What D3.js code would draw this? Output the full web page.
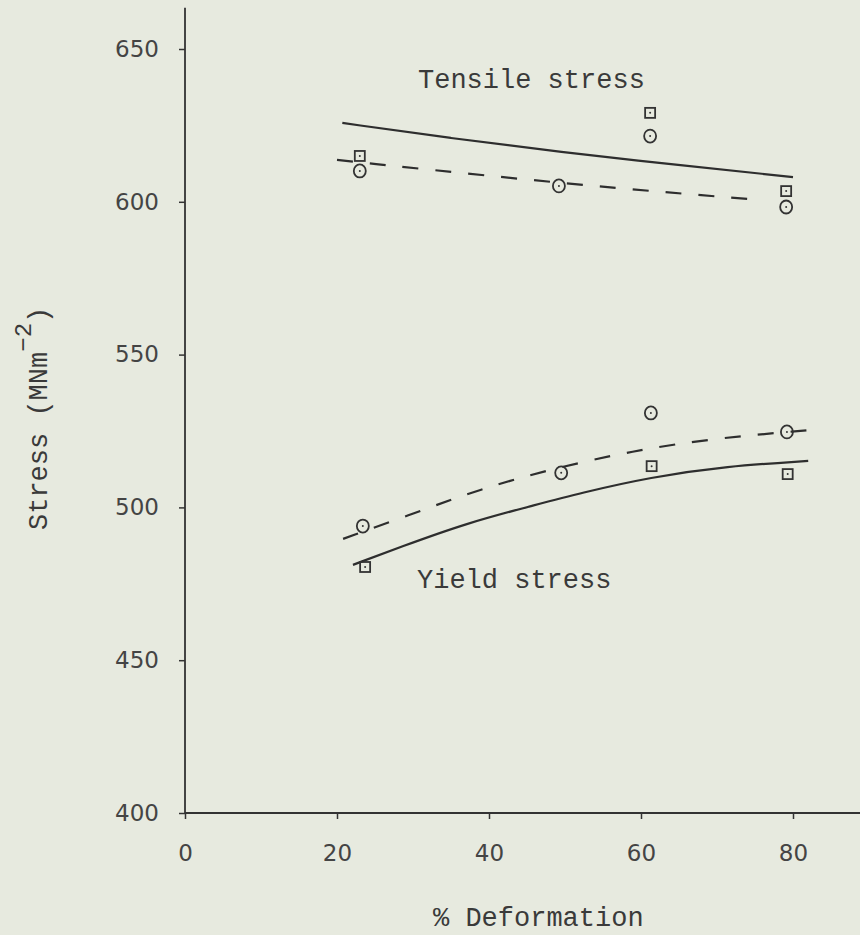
<!DOCTYPE html>
<html>
<head>
<meta charset="utf-8">
<script src="https://cdn.jsdelivr.net/npm/d3@7"></script>
<style>
  html, body { margin: 0; padding: 0; background: #e7eadf; }
  svg { display: block; }
  .tick text { font-family: "DejaVu Sans", sans-serif; font-size: 23px; fill: #444; }
  .lbl { font-family: "Liberation Mono", monospace; font-size: 27px; fill: #3a3a3a; }
</style>
</head>
<body>
<div id="chart"></div>
<script>
// axis ticks
const xTicks = [0, 20, 40, 60, 80];
const yTicks = [400, 450, 500, 550, 600, 650];

// measured points [% deformation, stress]
const tensileSquares = [[23.0, 615.0], [61.2, 629.1], [79.1, 603.5]];
const tensileCircles = [[23.0, 610.1], [49.2, 605.2], [61.2, 621.5], [79.1, 598.3]];
const yieldSquares = [[23.7, 480.5], [61.4, 513.5], [79.3, 510.9]];
const yieldCircles = [[23.4, 493.9], [49.5, 511.3], [61.3, 530.9], [79.2, 524.7]];

// hand drawn fit curves
const tensileSolid = [[20.7, 625.8], [35, 620.8], [49.3, 616.3], [65, 612.0], [80, 608.1]];
const tensileDashed = [[20.0, 613.7], [50.9, 605.6], [75.7, 600.6]];
const yieldSolid = [[22.1, 481.2], [28.3, 487.0], [37.1, 494.9], [45.8, 500.6], [52, 504.7], [61.2, 509.9], [71.3, 513.5], [82, 515.2]];
const yieldDashed = [[20.8, 489.7], [30.3, 498.2], [38.8, 506.0], [48.3, 512.6], [58.8, 518.5], [69.9, 522.7], [81.8, 525.2]];

const width = 860, height = 935;
const ink = '#333';

const svg = d3.select('#chart')
  .append('svg')
  .attr('width', width)
  .attr('height', height);

// scales
const x = d3.scaleLinear().domain([0, 80]).range([185, 793]);
const y = d3.scaleLinear().domain([400, 650]).range([813, 49]);

// axis lines run past the last tick, like the original
svg.append('line')
  .attr('x1', x(0)).attr('x2', x(0))
  .attr('y1', y(400)).attr('y2', y(663.5))
  .attr('stroke', ink).attr('stroke-width', 1.8);
svg.append('line')
  .attr('x1', x(0)).attr('x2', x(89))
  .attr('y1', y(400)).attr('y2', y(400))
  .attr('stroke', ink).attr('stroke-width', 1.8);

const yAxis = svg.append('g')
  .attr('transform', `translate(${x(0)},0)`)
  .call(d3.axisLeft(y).tickValues(yTicks).tickSize(6).tickPadding(20).tickFormat(d3.format('d')));
yAxis.select('.domain').remove();
yAxis.selectAll('.tick line').attr('stroke', ink).attr('stroke-width', 1.5);

const xAxis = svg.append('g')
  .attr('transform', `translate(0,${y(400)})`)
  .call(d3.axisBottom(x).tickValues(xTicks).tickSize(6).tickPadding(26).tickFormat(d3.format('d')));
xAxis.select('.domain').remove();
xAxis.selectAll('.tick line').attr('stroke', ink).attr('stroke-width', 1.5);

// axis titles
svg.append('text')
  .attr('class', 'lbl')
  .attr('x', 433).attr('y', 926)
  .text('% Deformation');

const yTitle = svg.append('text')
  .attr('class', 'lbl')
  .attr('transform', 'translate(47,530) rotate(-90)');
yTitle.append('tspan').text('Stress (MNm');
yTitle.append('tspan').attr('dy', -16).attr('font-size', 24).text('\u22122');
yTitle.append('tspan').attr('dy', 16).text(')');

// curves
const line = d3.line()
  .x(d => x(d[0]))
  .y(d => y(d[1]))
  .curve(d3.curveBasis);

[[tensileSolid, null], [tensileDashed, '16,17'], [yieldSolid, null], [yieldDashed, '16,17']]
  .forEach(([data, dash]) => {
    svg.append('path')
      .datum(data)
      .attr('fill', 'none')
      .attr('stroke', '#2e2e2e')
      .attr('stroke-width', 2.2)
      .attr('stroke-dasharray', dash)
      .attr('d', line);
  });

// markers: circle and square, each with a dot in the middle
const circles = tensileCircles.concat(yieldCircles);
const squares = tensileSquares.concat(yieldSquares);

svg.selectAll('.circ')
  .data(circles)
  .enter().append('ellipse')
  .attr('cx', d => x(d[0]))
  .attr('cy', d => y(d[1]))
  .attr('rx', 6).attr('ry', 6.5)
  .attr('fill', 'none')
  .attr('stroke', ink)
  .attr('stroke-width', 1.8);

svg.selectAll('.sq')
  .data(squares)
  .enter().append('rect')
  .attr('x', d => x(d[0]) - 5)
  .attr('y', d => y(d[1]) - 5)
  .attr('width', 10).attr('height', 10)
  .attr('fill', 'none')
  .attr('stroke', ink)
  .attr('stroke-width', 1.8);

svg.selectAll('.dot')
  .data(circles.concat(squares))
  .enter().append('circle')
  .attr('cx', d => x(d[0]))
  .attr('cy', d => y(d[1]))
  .attr('r', 1)
  .attr('fill', ink);

// curve labels
svg.append('text').attr('class', 'lbl').attr('x', 418).attr('y', 88).text('Tensile stress');
svg.append('text').attr('class', 'lbl').attr('x', 417).attr('y', 588).text('Yield stress');
</script>
</body>
</html>
